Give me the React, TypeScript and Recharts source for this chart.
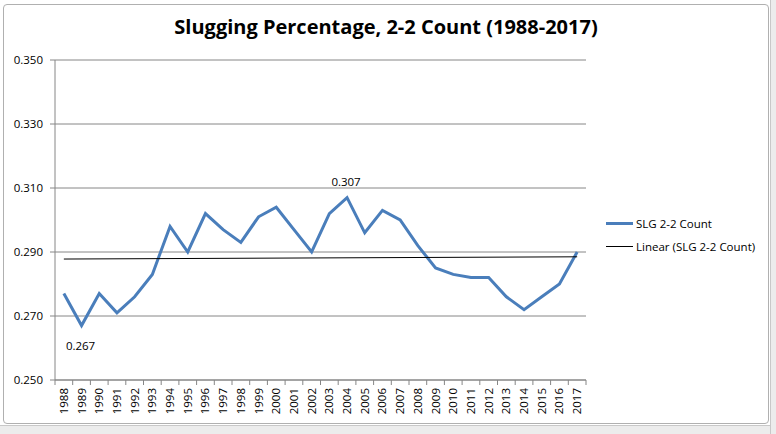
import React from 'react';
import {
  ComposedChart,
  Line,
  XAxis,
  YAxis,
  CartesianGrid,
  Legend,
  LabelList,
} from 'recharts';

const years = [
  '1988', '1989', '1990', '1991', '1992', '1993', '1994', '1995', '1996', '1997',
  '1998', '1999', '2000', '2001', '2002', '2003', '2004', '2005', '2006', '2007',
  '2008', '2009', '2010', '2011', '2012', '2013', '2014', '2015', '2016', '2017',
];
const slg = [
  0.277, 0.267, 0.277, 0.271, 0.276, 0.283, 0.298, 0.290, 0.302, 0.297,
  0.293, 0.301, 0.304, 0.297, 0.290, 0.302, 0.307, 0.296, 0.303, 0.300,
  0.292, 0.285, 0.283, 0.282, 0.282, 0.276, 0.272, 0.276, 0.280, 0.290,
];
// Linear trendline end points
const trendStart = 0.2878;
const trendEnd = 0.2885;
const yTicks = [0.25, 0.27, 0.29, 0.31, 0.33, 0.35];
const labeledYears = ['1989', '2004'];
const labelBelowYears = ['1989'];

const seriesName = 'SLG 2-2 Count';
const trendName = 'Linear (SLG 2-2 Count)';

const data = years.map((y, i) => ({
  year: y,
  slg: slg[i],
  trend: i === 0 ? trendStart : i === years.length - 1 ? trendEnd : null,
}));

const FONT = '"Open Sans", "Liberation Sans", sans-serif';
const CHART_W = 766;
const CHART_H = 420;
const MARGIN = { top: 56, right: 183, bottom: 0, left: 0 };
const Y_W = 52;
const PLOT_W = CHART_W - MARGIN.left - MARGIN.right - Y_W;
const BAND = PLOT_W / years.length;
const AXIS_COLOR = '#868686';
const BLUE = '#4a7ebb';

const XTick = (props: any) => {
  const { x, y, payload, index } = props;
  const half = BAND / 2;
  const isLast = index === years.length - 1;
  return (
    <g>
      <line x1={x - half} x2={x - half} y1={y} y2={y + 5} stroke={AXIS_COLOR} />
      {isLast && <line x1={x + half} x2={x + half} y1={y} y2={y + 5} stroke={AXIS_COLOR} />}
      <text
        x={0}
        y={0}
        transform={`translate(${x + 4},${y + 8}) rotate(-90)`}
        textAnchor="end"
        fontSize={11.5}
        fontFamily={FONT}
        fill="#000"
      >
        {payload.value}
      </text>
    </g>
  );
};

const PointLabel = (props: any) => {
  const { x, y, index } = props;
  const yr = years[index];
  if (!labeledYears.includes(yr)) return null;
  const below = labelBelowYears.includes(yr);
  return (
    <text
      x={x - 1}
      y={below ? y + 24 : y - 12}
      textAnchor="middle"
      fontSize={11.5}
      fontFamily={FONT}
      fill="#000"
    >
      {slg[index].toFixed(3)}
    </text>
  );
};

const LegendContent = () => (
  <div style={{ fontFamily: FONT, fontSize: 11.5, color: '#000' }}>
    <div style={{ display: 'flex', alignItems: 'center', height: 16, marginBottom: 7 }}>
      <div style={{ width: 27, height: 3, background: BLUE, marginRight: 3 }} />
      <span>{seriesName}</span>
    </div>
    <div style={{ display: 'flex', alignItems: 'center', height: 16 }}>
      <div style={{ width: 27, height: 1, background: '#000', marginRight: 3 }} />
      <span>{trendName}</span>
    </div>
  </div>
);

export default function App() {
  return (
    <div
      style={{
        position: 'absolute',
        left: 0,
        top: 0,
        width: 776,
        height: 434,
        background: '#ffffff',
        overflow: 'hidden',
      }}
    >
      <div
        style={{
          position: 'absolute',
          left: 0,
          top: 425,
          width: 776,
          height: 9,
          background: '#ececec',
          borderTop: '1px solid #c8c8c8',
        }}
      />
      <div
        style={{
          position: 'absolute',
          left: 770,
          top: 0,
          width: 6,
          height: 434,
          background: '#ececec',
          borderLeft: '1px solid #c8c8c8',
        }}
      />
      <div
        style={{
          position: 'absolute',
          left: 3,
          top: 4,
          width: CHART_W,
          height: CHART_H,
          background: '#fff',
          border: '1px solid #b0b0b0',
          borderRadius: 4,
          boxSizing: 'border-box',
        }}
      />
      <div
        style={{
          position: 'absolute',
          left: 3,
          top: 13,
          width: CHART_W,
          textAlign: 'center',
          fontFamily: FONT,
          fontWeight: 700,
          fontSize: 20,
          color: '#000',
        }}
      >
        Slugging Percentage, 2-2 Count (1988-2017)
      </div>
      <div style={{ position: 'absolute', left: 3, top: 4 }}>
        <ComposedChart width={CHART_W} height={CHART_H} data={data} margin={MARGIN}>
          <CartesianGrid vertical={false} stroke={AXIS_COLOR} strokeWidth={1} />
          <XAxis
            dataKey="year"
            scale="band"
            interval={0}
            height={44}
            tickSize={0}
            tickMargin={0}
            tickLine={false}
            axisLine={{ stroke: AXIS_COLOR }}
            tick={<XTick />}
          />
          <YAxis
            width={Y_W}
            domain={[0.25, 0.35]}
            ticks={yTicks}
            allowDataOverflow
            tickFormatter={(v: number) => v.toFixed(3)}
            tickSize={5}
            tickMargin={7}
            axisLine={{ stroke: AXIS_COLOR }}
            tickLine={{ stroke: AXIS_COLOR }}
            tick={{ fontSize: 11.5, fontFamily: FONT, fill: '#000' }}
          />
          <Line
            type="linear"
            dataKey="slg"
            name={seriesName}
            stroke={BLUE}
            strokeWidth={3}
            dot={false}
            activeDot={false}
            isAnimationActive={false}
          >
            <LabelList dataKey="slg" content={<PointLabel />} />
          </Line>
          <Line
            type="linear"
            dataKey="trend"
            name={trendName}
            stroke="#000"
            strokeWidth={1}
            dot={false}
            activeDot={false}
            connectNulls
            isAnimationActive={false}
          />
          <Legend
            layout="horizontal"
            verticalAlign="middle"
            align="center"
            content={<LegendContent />}
            wrapperStyle={{ left: 603, top: 211, width: 165, right: 'auto', bottom: 'auto' }}
          />
        </ComposedChart>
      </div>
    </div>
  );
}
